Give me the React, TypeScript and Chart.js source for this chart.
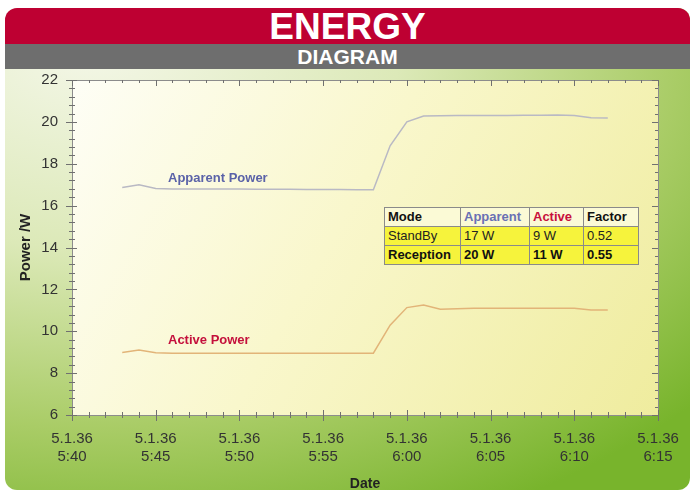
import React, { useEffect, useRef } from "react";
import { Chart, registerables } from "chart.js";
Chart.register(...registerables);

// minutes after 5:40
const minutes = [3, 4, 5, 6, 7, 8, 9, 10, 11, 12, 13, 14, 15, 16, 17, 18, 19, 20, 21, 22, 23, 24, 25, 26, 27, 28, 29, 30, 31, 32];
const apparentPower = [16.87, 17.0, 16.82, 16.8, 16.8, 16.8, 16.79, 16.79, 16.78, 16.78, 16.78, 16.77, 16.77, 16.77, 16.76, 16.76, 18.86, 20.0, 20.28, 20.29, 20.3, 20.3, 20.31, 20.31, 20.32, 20.32, 20.33, 20.3, 20.2, 20.19];
const activePower = [8.99, 9.1, 8.97, 8.95, 8.95, 8.95, 8.95, 8.95, 8.95, 8.95, 8.95, 8.95, 8.95, 8.95, 8.95, 8.95, 10.29, 11.13, 11.25, 11.05, 11.08, 11.1, 11.1, 11.1, 11.1, 11.1, 11.1, 11.1, 11.02, 11.02];
const xTickDate = "5.1.36";
const xTickTimes = ["5:40", "5:45", "5:50", "5:55", "6:00", "6:05", "6:10", "6:15"];
const yMin = 6;
const yMax = 22;
const tableHeader = ["Mode", "Apparent", "Active", "Factor"];
const standbyRow = ["StandBy", "17 W", "9 W", "0.52"];
const receptionRow = ["Reception", "20 W", "11 W", "0.55"];

const FONT = "'Liberation Sans', Arial, Helvetica, sans-serif";

const framePlugin = {
  id: "frameTicks",
  beforeDraw(chart: any) {
    const { ctx, chartArea: a } = chart;
    ctx.save();
    const g = ctx.createLinearGradient(a.left, a.top, a.right, a.bottom);
    g.addColorStop(0, "#fefef6");
    g.addColorStop(0.45, "#f9f7cc");
    g.addColorStop(1, "#efec9e");
    ctx.fillStyle = g;
    ctx.fillRect(a.left, a.top, a.right - a.left, a.bottom - a.top);
    ctx.restore();
  },
  afterDraw(chart: any) {
    const { ctx, chartArea: a } = chart;
    const x = chart.scales.x;
    const y = chart.scales.y;
    ctx.save();
    ctx.strokeStyle = "#8c8c8c";
    ctx.lineWidth = 1;
    ctx.strokeRect(Math.round(a.left) + 0.5, Math.round(a.top) + 0.5, Math.round(a.right - a.left), Math.round(a.bottom - a.top));
    ctx.strokeStyle = "#707070";
    ctx.beginPath();
    for (let i = 0; i <= 40; i++) {
      const v = yMin + i * 0.4;
      const py = Math.round(y.getPixelForValue(v)) + 0.5;
      const major = i % 5 === 0;
      ctx.moveTo(a.left - (major ? 6 : 3), py);
      ctx.lineTo(a.left + (major ? 5 : 3), py);
      ctx.moveTo(a.right - (major ? 6 : 3), py);
      ctx.lineTo(a.right, py);
    }
    for (let m = 0; m <= 35; m++) {
      const px = Math.round(x.getPixelForValue(m)) + 0.5;
      const major = m % 5 === 0;
      ctx.moveTo(px, a.bottom - (major ? 5 : 3));
      ctx.lineTo(px, a.bottom + (major ? 6 : 3));
      ctx.moveTo(px, a.top);
      ctx.lineTo(px, a.top + (major ? 6 : 3));
    }
    ctx.stroke();
    ctx.restore();
  },
};

export default function App() {
  const ref = useRef<HTMLCanvasElement | null>(null);
  useEffect(() => {
    if (!ref.current) return;
    const chart = new Chart(ref.current, {
      type: "line",
      data: {
        datasets: [
          {
            label: "Apparent Power",
            data: minutes.map((m, i) => ({ x: m, y: apparentPower[i] })),
            borderColor: "#b9b9c4",
            borderWidth: 1.5,
            pointRadius: 0,
            tension: 0,
          },
          {
            label: "Active Power",
            data: minutes.map((m, i) => ({ x: m, y: activePower[i] })),
            borderColor: "#e2b478",
            borderWidth: 1.5,
            pointRadius: 0,
            tension: 0,
          },
        ],
      },
      options: {
        animation: false,
        responsive: false,
        devicePixelRatio: 1,
        layout: { padding: { top: 80, right: 37, left: 0, bottom: 0 } },
        plugins: { legend: { display: false }, tooltip: { enabled: false } },
        scales: {
          x: {
            type: "linear",
            min: 0,
            max: 35,
            afterFit: (s: any) => { s.height = 80; },
            grid: { display: false, drawTicks: false },
            border: { display: false },
            ticks: {
              stepSize: 5,
              autoSkip: false,
              maxRotation: 0,
              padding: 15,
              color: "#333333",
              font: { family: FONT, size: 15, lineHeight: 1.2 },
              callback: (v: any) => [xTickDate, xTickTimes[Math.round(Number(v) / 5)]],
            },
            title: {
              display: true,
              text: "Date",
              color: "#222222",
              font: { family: FONT, size: 14, weight: "bold" },
              padding: { top: 0, bottom: 2 },
            },
          },
          y: {
            type: "linear",
            min: yMin,
            max: yMax,
            afterFit: (s: any) => { s.width = 72; },
            grid: { display: false, drawTicks: false },
            border: { display: false },
            ticks: {
              stepSize: 2,
              padding: 14,
              color: "#333333",
              font: { family: FONT, size: 15 },
            },
            title: {
              display: true,
              text: "Power /W",
              color: "#222222",
              font: { family: FONT, size: 15, weight: "bold" },
              padding: { top: 17, bottom: 0 },
            },
          },
        },
      },
      plugins: [framePlugin],
    } as any);
    return () => chart.destroy();
  }, []);

  const cell: React.CSSProperties = {
    border: "1.5px solid #8a8a8a",
    padding: "0 3px",
    height: 18,
    lineHeight: "18px",
    whiteSpace: "nowrap",
  };
  const headColors = ["#111111", "#6a70b4", "#c8103c", "#111111"];
  const widths = [76, 69, 54, 55];

  return (
    <div style={{ position: "absolute", left: 0, top: 0, width: 695, height: 495, background: "#ffffff", overflow: "hidden", fontFamily: FONT }}>
      <div
        style={{
          position: "absolute",
          left: 5,
          top: 8,
          width: 685,
          height: 482,
          borderRadius: 12,
          overflow: "hidden",
          background: "radial-gradient(ellipse 120% 110% at 12% 8%, #f4f7e8 0%, #dce9b8 38%, #a9cc66 72%, #78b42c 100%)",
        }}
      >
        <div style={{ position: "absolute", left: 0, top: 0, width: 685, height: 36, background: "#be0032", color: "#ffffff", fontWeight: "bold", fontSize: 37, lineHeight: "38px", textAlign: "center" }}>
          ENERGY
        </div>
        <div style={{ position: "absolute", left: 0, top: 36, width: 685, height: 25, background: "#6e6e6e", color: "#ffffff", fontWeight: "bold", fontSize: 21, lineHeight: "26px", textAlign: "center" }}>
          DIAGRAM
        </div>
      </div>
      <canvas ref={ref} width={695} height={495} style={{ position: "absolute", left: 0, top: 0, width: 695, height: 495 }} />
      <div style={{ position: "absolute", left: 168, top: 170, color: "#5a62a8", fontWeight: "bold", fontSize: 13 }}>Apparent Power</div>
      <div style={{ position: "absolute", left: 168, top: 332, color: "#c4103c", fontWeight: "bold", fontSize: 13 }}>Active Power</div>
      <table
        style={{
          position: "absolute",
          left: 384,
          top: 207,
          width: 254,
          borderCollapse: "collapse",
          fontSize: 13,
          fontFamily: FONT,
          tableLayout: "fixed",
        }}
      >
        <colgroup>
          {widths.map((w, i) => (
            <col key={i} style={{ width: w }} />
          ))}
        </colgroup>
        <tbody>
          <tr style={{ background: "#fbfad6" }}>
            {tableHeader.map((t, i) => (
              <td key={i} style={{ ...cell, color: headColors[i], fontWeight: "bold" }}>{t}</td>
            ))}
          </tr>
          <tr style={{ background: "#f6f33c" }}>
            {standbyRow.map((t, i) => (
              <td key={i} style={{ ...cell, color: "#222222" }}>{t}</td>
            ))}
          </tr>
          <tr style={{ background: "#f6f33c" }}>
            {receptionRow.map((t, i) => (
              <td key={i} style={{ ...cell, color: "#111111", fontWeight: "bold" }}>{t}</td>
            ))}
          </tr>
        </tbody>
      </table>
    </div>
  );
}
